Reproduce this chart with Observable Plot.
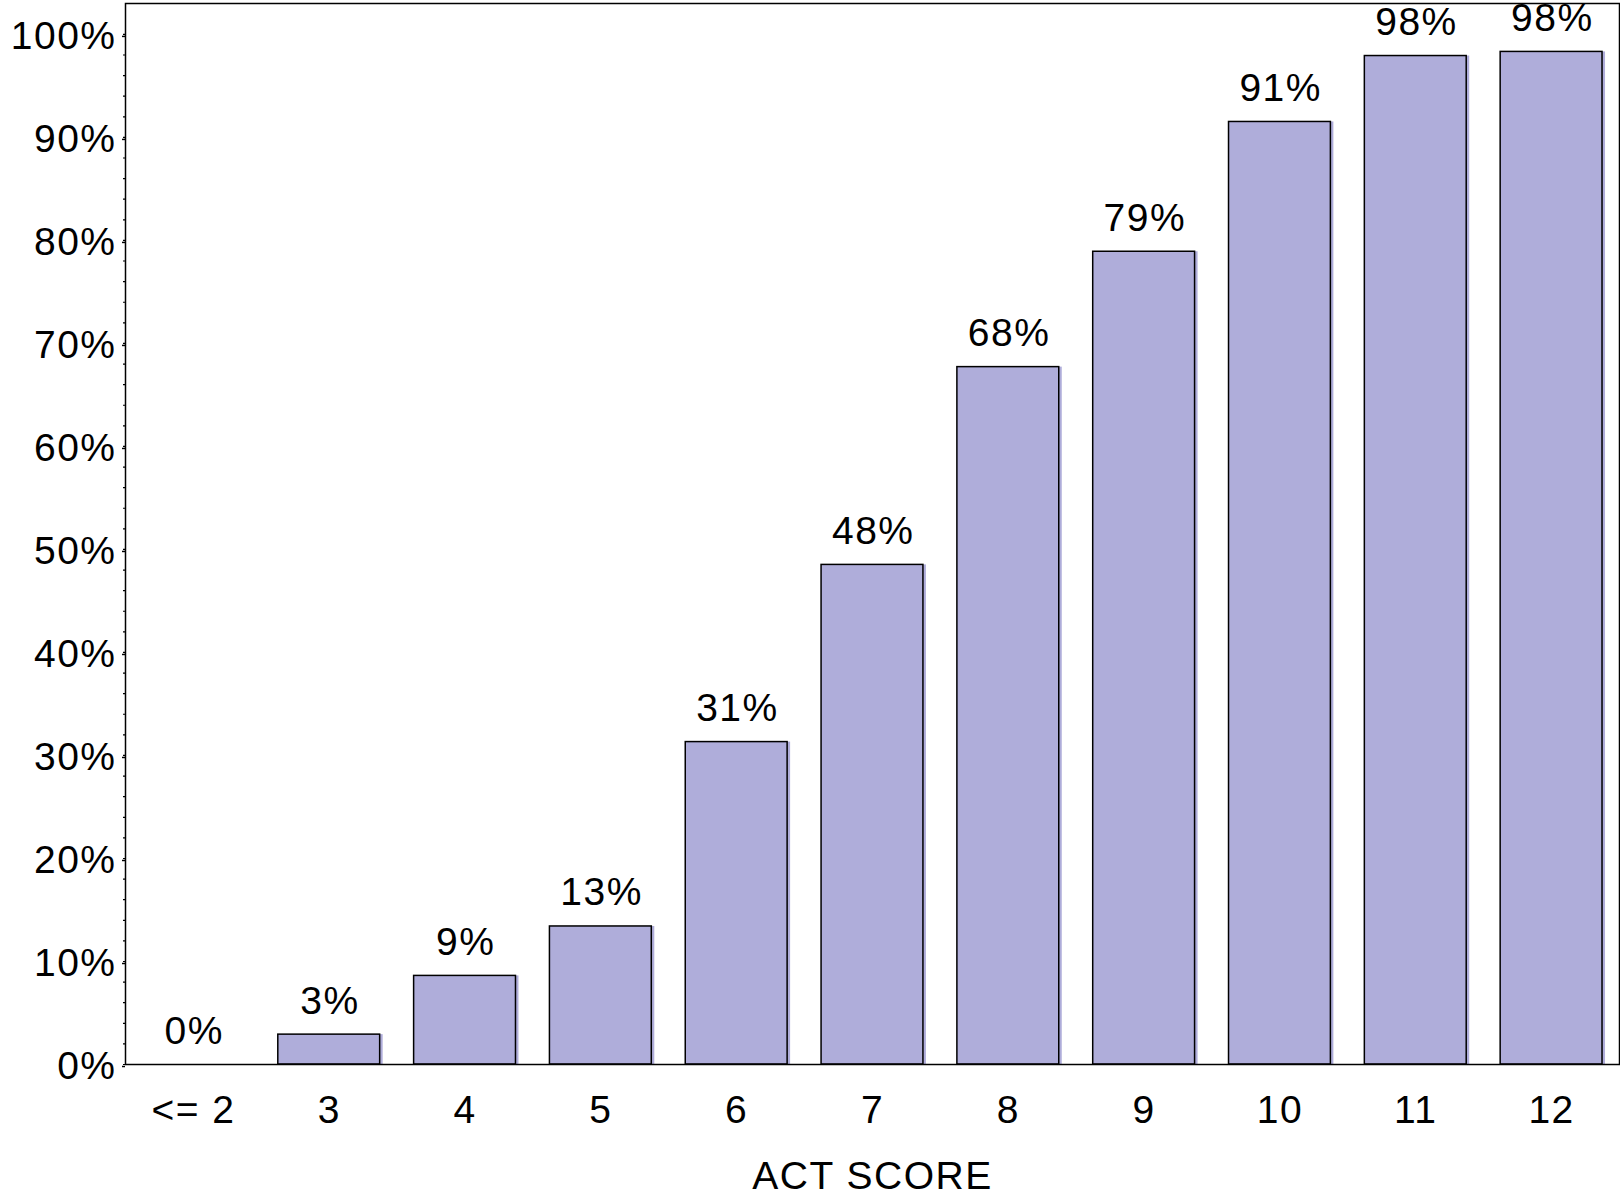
<!DOCTYPE html>
<html>
<head>
<meta charset="utf-8">
<script src="https://cdn.jsdelivr.net/npm/d3@7"></script>
<script src="https://cdn.jsdelivr.net/npm/@observablehq/plot@0.6"></script>
<style>
  html, body { margin: 0; padding: 0; background: #fff; }
</style>
</head>
<body>
<div id="chart"></div>
<script>
const categories = ["<= 2", "3", "4", "5", "6", "7", "8", "9", "10", "11", "12"];
const values = [0, 2.9, 8.6, 13.4, 31.3, 48.5, 67.7, 78.9, 91.5, 97.9, 98.3];
const labels = ["0%", "3%", "9%", "13%", "31%", "48%", "68%", "79%", "91%", "98%", "98%"];
const majorTicks = [0, 10, 20, 30, 40, 50, 60, 70, 80, 90, 100];
const minorTicks = d3.range(0, 101, 2);
const xTitle = "ACT SCORE";

const data = categories.map((c, i) => ({cat: c, value: values[i], label: labels[i]}));
const barData = data.filter(d => d.value > 0);

const fill = "#afadda";

const chart = Plot.plot({
  width: 1620,
  height: 1193,
  marginLeft: 125,
  marginRight: 1,
  marginTop: 3,
  marginBottom: 129,
  style: {fontFamily: "'Liberation Sans', Arial, Helvetica, sans-serif", fontSize: "39px", color: "black", background: "white", letterSpacing: "1.5px"},
  x: {domain: categories, paddingInner: 0.25, paddingOuter: 0.125, round: false, label: null},
  y: {domain: [0, 103], label: null},
  marks: [
    Plot.barY(barData, {x: "cat", y: "value", fill: fill, dx: 3}),
    Plot.barY(barData, {x: "cat", y: "value", fill: fill, stroke: "black", strokeWidth: 1.5}),
    Plot.text(data, {x: "cat", y: "value", text: "label", lineAnchor: "bottom", dy: -21, dx: 0.75, fontSize: 39, fill: "black"}),
    Plot.axisY(minorTicks, {tickSize: 2, tickFormat: () => "", strokeWidth: 1.2}),
    Plot.axisY(majorTicks, {tickSize: 3, tickPadding: 6, tickFormat: d => d + "%", fontSize: 39, strokeWidth: 1.5, dy: 2}),
    Plot.axisX({tickSize: 0, tickPadding: 31, fontSize: 39, label: null}),
    Plot.text([xTitle], {frameAnchor: "bottom", text: d => d, lineAnchor: "bottom", dy: 124, fontSize: 39, fill: "black"}),
    Plot.frame({stroke: "black", strokeWidth: 1.5})
  ]
});
document.getElementById("chart").appendChild(chart);
</script>
</body>
</html>
